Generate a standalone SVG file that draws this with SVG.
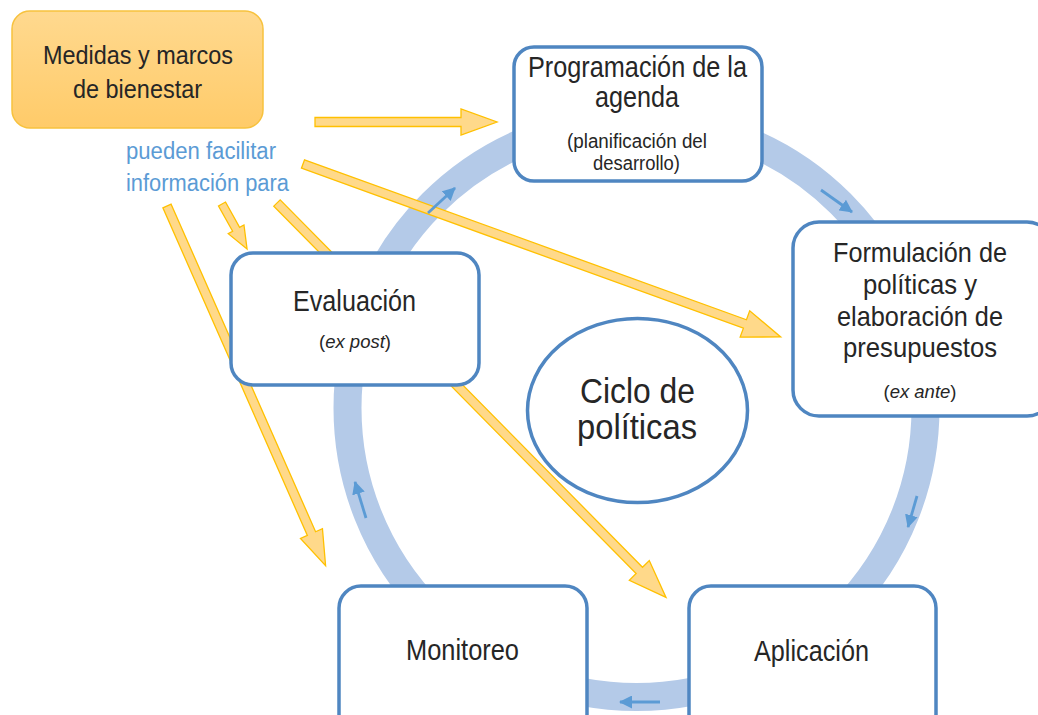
<svg xmlns="http://www.w3.org/2000/svg" width="1038" height="715" viewBox="0 0 1038 715">
<defs>
<linearGradient id="og" x1="0" y1="0" x2="0" y2="1">
<stop offset="0" stop-color="#FFD98F"/>
<stop offset="1" stop-color="#FFCB69"/>
</linearGradient>
<marker id="bh" markerWidth="13" markerHeight="13" refX="12" refY="6.5" orient="auto" markerUnits="userSpaceOnUse">
<path d="M0,0 L13,6.5 L0,13 z" fill="#5B9BD5"/>
</marker>
<style>
.box{fill:#fff;stroke:#4F86C1;stroke-width:3.5}
.t{font-family:"Liberation Sans",Arial,sans-serif;fill:#262626}
.b{font-family:"Liberation Sans",Arial,sans-serif;fill:#5B9BD5}
.oa{fill:#FFD98A;stroke:#FFC000;stroke-width:1.3}
.sa{stroke:#5B9BD5;stroke-width:2.8;fill:none;marker-end:url(#bh)}
</style>
</defs>
<rect width="1038" height="715" fill="#fff"/>
<g id="ring">
<circle cx="636.5" cy="408" r="289" fill="none" stroke="#B4CAE8" stroke-width="28"/>
</g>
<g id="connectors">
<path class="oa" transform="translate(315,122)" d="M0,-4.5 L146,-4.5 L146,-13 L182,0 L146,13 L146,4.5 L0,4.5 Z"/>
<path class="oa" transform="translate(303,164) rotate(19.9)" d="M0,-4.5 L470,-4.5 L470,-14 L508,0 L470,14 L470,4.5 L0,4.5 Z"/>
<path class="oa" transform="translate(222,204) rotate(60.9)" d="M0,-4 L29,-4 L29,-9 L51.5,0 L29,9 L29,4 L0,4 Z"/>
<path class="oa" transform="translate(277,203) rotate(45.4)" d="M0,-4.5 L516,-4.5 L516,-14 L554,0 L516,14 L516,4.5 L0,4.5 Z"/>
<path class="oa" transform="translate(167,206) rotate(66.2)" d="M0,-4.5 L358,-4.5 L358,-12 L393,0 L358,12 L358,4.5 L0,4.5 Z"/>
</g>
<g id="medidas">
<rect x="12" y="11" width="251" height="117" rx="18" fill="url(#og)" stroke="#F7C23E" stroke-width="1.5"/>
<text class="t" font-size="26" x="43" y="64" textLength="190" lengthAdjust="spacingAndGlyphs">Medidas y marcos</text>
<text class="t" font-size="26" x="73" y="98" textLength="129" lengthAdjust="spacingAndGlyphs">de bienestar</text>
</g>
<g id="label-informacion">
<text class="b" font-size="23" x="126" y="159" textLength="150" lengthAdjust="spacingAndGlyphs">pueden facilitar</text>
<text class="b" font-size="23" x="126" y="191" textLength="163" lengthAdjust="spacingAndGlyphs">información para</text>
</g>
<g id="programacion">
<rect class="box" x="514" y="47" width="248" height="134" rx="20"/>
<text class="t" font-size="29" x="528" y="77" textLength="219" lengthAdjust="spacingAndGlyphs">Programación de la</text>
<text class="t" font-size="29" x="595" y="107" textLength="84" lengthAdjust="spacingAndGlyphs">agenda</text>
<text class="t" font-size="20" x="567" y="148" textLength="140" lengthAdjust="spacingAndGlyphs">(planificación del</text>
<text class="t" font-size="20" x="593" y="170" textLength="87" lengthAdjust="spacingAndGlyphs">desarrollo)</text>
</g>
<g id="formulacion">
<rect class="box" x="793" y="222" width="260" height="194" rx="26"/>
<text class="t" font-size="28" x="833" y="262" textLength="174" lengthAdjust="spacingAndGlyphs">Formulación de</text>
<text class="t" font-size="28" x="863" y="294" textLength="114" lengthAdjust="spacingAndGlyphs">políticas y</text>
<text class="t" font-size="28" x="837" y="326" textLength="166" lengthAdjust="spacingAndGlyphs">elaboración de</text>
<text class="t" font-size="28" x="843" y="357" textLength="154" lengthAdjust="spacingAndGlyphs">presupuestos</text>
<text class="t" font-size="18.5" x="920" y="398" text-anchor="middle">(<tspan font-style="italic">ex ante</tspan>)</text>
</g>
<g id="evaluacion">
<rect class="box" x="231" y="253" width="248" height="132" rx="22"/>
<text class="t" font-size="30" x="293" y="311" textLength="123" lengthAdjust="spacingAndGlyphs">Evaluación</text>
<text class="t" font-size="18.5" x="355" y="348" text-anchor="middle">(<tspan font-style="italic">ex post</tspan>)</text>
</g>
<g id="monitoreo">
<rect class="box" x="339" y="586" width="248" height="150" rx="22"/>
<text class="t" font-size="30" x="406" y="660" textLength="113" lengthAdjust="spacingAndGlyphs">Monitoreo</text>
</g>
<g id="aplicacion">
<rect class="box" x="689" y="586" width="247" height="150" rx="22"/>
<text class="t" font-size="30" x="754" y="661" textLength="115" lengthAdjust="spacingAndGlyphs">Aplicación</text>
</g>
<g id="ciclo">
<ellipse cx="637.5" cy="410.5" rx="110" ry="92" fill="#fff" stroke="#4F86C1" stroke-width="3.5"/>
<text class="t" font-size="35" x="580" y="403" textLength="115" lengthAdjust="spacingAndGlyphs">Ciclo de</text>
<text class="t" font-size="35" x="577" y="439" textLength="120" lengthAdjust="spacingAndGlyphs">políticas</text>
</g>
<g id="cycle-arrows">
<line class="sa" x1="428" y1="213" x2="455" y2="188"/>
<line class="sa" x1="821" y1="190" x2="852" y2="212"/>
<line class="sa" x1="917" y1="496" x2="908" y2="527"/>
<line class="sa" x1="660" y1="702" x2="620" y2="702"/>
<line class="sa" x1="366" y1="518" x2="355" y2="482"/>
</g>
</svg>
